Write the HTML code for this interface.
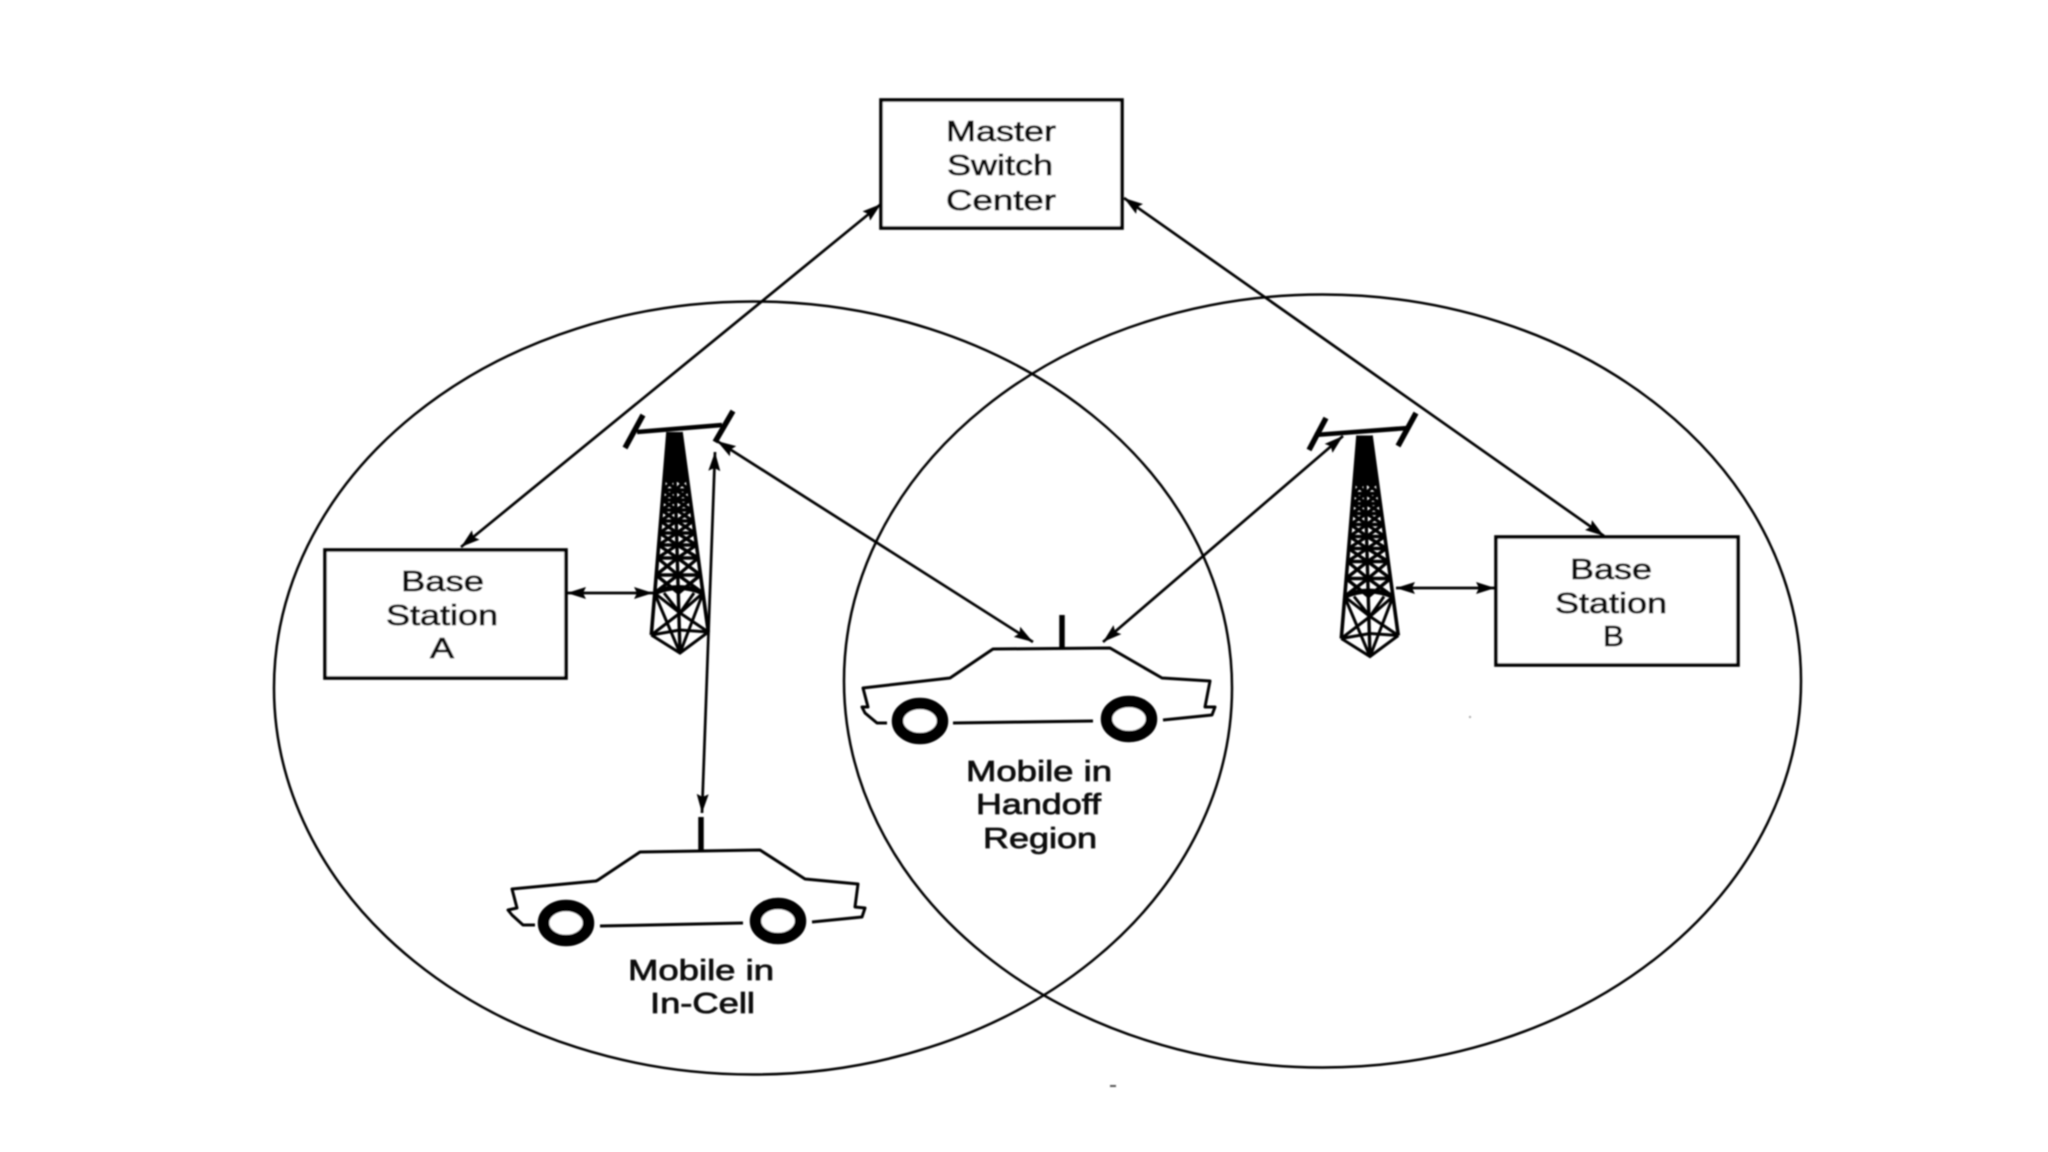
<!DOCTYPE html>
<html><head><meta charset="utf-8"><title>Cellular handoff diagram</title>
<style>
html,body{margin:0;padding:0;background:#fff;width:2048px;height:1152px;overflow:hidden}
svg{display:block}
text{font-family:"Liberation Sans",sans-serif;font-size:28.5px;fill:#111;stroke:#111;stroke-width:.75px}
</style></head><body>
<svg width="2048" height="1152" viewBox="0 0 2048 1152" xmlns="http://www.w3.org/2000/svg">
<defs>
<filter id="b" x="-5%" y="-5%" width="110%" height="110%"><feGaussianBlur stdDeviation="0.7"/></filter>
<marker id="ah" viewBox="0 0 19 13" refX="19" refY="6.5" markerWidth="19" markerHeight="13" markerUnits="userSpaceOnUse" orient="auto-start-reverse"><path d="M0 0.5L19 6.5L0 12.5L3 6.5Z" fill="#000"/></marker>
<g id="tower">
<polygon points="667,432 682,432 688,482 663,482" fill="#000"/>
<path fill="none" stroke="#000" stroke-width="3.6" d="M668 432L651.3 635M681 432L708.3 632"/>
<path fill="none" stroke="#000" stroke-width="3.4" d="M664.1 478H687.3M663.1 490H688.9M662.3 500H690.3M661.5 510H691.6M660.6 521H693.1M659.5 533H694.8M658.5 545H696.4M657.5 558H698.2M656 575H700.5
M664.1 478L675.9 490M675.6 478L663.1 490M687.3 478L675.9 490M675.6 478L688.9 490
M663.1 490L676.2 500M675.9 490L662.3 500M688.9 490L676.2 500M675.9 490L690.3 500
M662.3 500L676.4 510M676.2 500L661.5 510M690.3 500L676.4 510M676.2 500L691.6 510
M661.5 510L676.7 521M676.4 510L660.6 521M691.6 510L676.7 521M676.4 510L693.1 521
M660.6 521L677 533M676.7 521L659.5 533M693.1 521L677 533M676.7 521L694.8 533
M659.5 533L677.3 545M677 533L658.5 545M694.8 533L677.3 545M677 533L696.4 545
M658.5 545L677.6 558M677.3 545L657.5 558M696.4 545L677.6 558M677.3 545L698.2 558
M657.5 558L678 575M677.6 558L656 575M698.2 558L678 575M677.6 558L700.5 575
M656 575L678.5 593M678 575L654.5 593M700.5 575L678.5 593M678 575L703 593
M675 478L680 653"/>
<path fill="none" stroke="#000" stroke-width="5" d="M654.5 593Q679 582 703 593"/>
<path fill="none" stroke="#000" stroke-width="3" d="M654.5 593L680 653M703 593L680 653M651.3 635L680 613L708.3 632M654.5 593L680 613L703 593M651.3 635L680 653L708.3 632M664 593L680 613M694 593L680 613M651.3 635L680 630M708.3 632L680 630"/>
</g>
<g id="wheel">
<ellipse cx="0" cy="0" rx="22.5" ry="17.5" fill="#fff" stroke="#000" stroke-width="11.5"/>
</g>
</defs>

<g filter="url(#b)">
<!-- cells -->
<ellipse cx="753" cy="688" rx="479" ry="386.5" fill="none" stroke="#000" stroke-width="2.5"/>
<ellipse cx="1322.5" cy="681" rx="478.5" ry="386.5" fill="none" stroke="#000" stroke-width="2.5"/>

<!-- boxes -->
<rect x="881" y="100" width="241" height="128" fill="#fff" stroke="#000" stroke-width="3.6"/>
<rect x="325" y="550" width="241" height="128" fill="#fff" stroke="#000" stroke-width="3.6"/>
<rect x="1496" y="537" width="242" height="128" fill="#fff" stroke="#000" stroke-width="3.6"/>

<!-- arrows -->
<g fill="none" stroke="#000" stroke-width="2.7">
<line x1="881" y1="204" x2="461" y2="547" marker-start="url(#ah)" marker-end="url(#ah)"/>
<line x1="1124" y1="198" x2="1604" y2="536" marker-start="url(#ah)" marker-end="url(#ah)"/>
<line x1="717" y1="441" x2="1033" y2="642" marker-start="url(#ah)" marker-end="url(#ah)"/>
<line x1="1343" y1="436" x2="1103" y2="642" marker-start="url(#ah)" marker-end="url(#ah)"/>
<line x1="715" y1="452" x2="702" y2="813" marker-start="url(#ah)" marker-end="url(#ah)"/>
<line x1="567" y1="593" x2="653" y2="593" marker-start="url(#ah)" marker-end="url(#ah)"/>
<line x1="1396" y1="588" x2="1495" y2="588" marker-start="url(#ah)" marker-end="url(#ah)"/>
</g>

<!-- tower A -->
<use href="#tower"/>
<path fill="none" stroke="#000" stroke-width="4.5" d="M637 432L722 425"/>
<path fill="none" stroke="#000" stroke-width="5.5" d="M625 448L643 415M733 411L715 442"/>

<!-- tower B -->
<use href="#tower" transform="translate(690,3.5)"/>
<path fill="none" stroke="#000" stroke-width="4.5" d="M1315 435L1408 428"/>
<path fill="none" stroke="#000" stroke-width="5.5" d="M1309 450L1326 418M1398 446L1416 413"/>

<!-- handoff car -->
<path fill="none" stroke="#000" stroke-width="3" stroke-linejoin="round" d="M887 723L877 723L865 713L862 707L868 707L863 688L950 678L953 676L993 649L1110 648L1162 678L1210 681L1205 707L1215 707L1212 715L1163 720M953 723L1093 721"/>
<line x1="1062" y1="615" x2="1062" y2="649" stroke="#000" stroke-width="5.5"/>
<use href="#wheel" x="920" y="721"/>
<use href="#wheel" x="1129" y="719"/>

<!-- in-cell car -->
<path fill="none" stroke="#000" stroke-width="3" stroke-linejoin="round" d="M535 925L523 925L512 915L508 910L517 908L512 889L596 881L598 880L640 852L760 850L805 879L858 884L855 907L865 908L862 917L812 922M600 926L743 923"/>
<line x1="701" y1="817" x2="701" y2="851" stroke="#000" stroke-width="5.5"/>
<use href="#wheel" x="566" y="923"/>
<use href="#wheel" x="778" y="921"/>

<!-- labels -->
<text x="946" y="141" textLength="110" lengthAdjust="spacingAndGlyphs">Master</text>
<text x="947" y="175" textLength="106" lengthAdjust="spacingAndGlyphs">Switch</text>
<text x="946" y="210" textLength="110" lengthAdjust="spacingAndGlyphs">Center</text>

<text x="401" y="591" textLength="83" lengthAdjust="spacingAndGlyphs">Base</text>
<text x="386" y="625" textLength="112" lengthAdjust="spacingAndGlyphs">Station</text>
<text x="430" y="658" textLength="24" lengthAdjust="spacingAndGlyphs">A</text>

<text x="1570" y="579" textLength="82" lengthAdjust="spacingAndGlyphs">Base</text>
<text x="1555" y="613" textLength="112" lengthAdjust="spacingAndGlyphs">Station</text>
<text x="1603" y="646" textLength="21" lengthAdjust="spacingAndGlyphs">B</text>

<text x="966" y="781" textLength="146" lengthAdjust="spacingAndGlyphs">Mobile in</text>
<text x="976" y="814" textLength="125" lengthAdjust="spacingAndGlyphs">Handoff</text>
<text x="983" y="848" textLength="114" lengthAdjust="spacingAndGlyphs">Region</text>

<text x="628" y="980" textLength="146" lengthAdjust="spacingAndGlyphs">Mobile in</text>
<text x="650" y="1013" textLength="105" lengthAdjust="spacingAndGlyphs">In-Cell</text>

<!-- specks -->
<rect x="1110" y="1085" width="6" height="2" fill="#555"/>
<rect x="1469" y="716" width="2" height="2" fill="#aaa"/>
</g>
</svg>
</body></html>
